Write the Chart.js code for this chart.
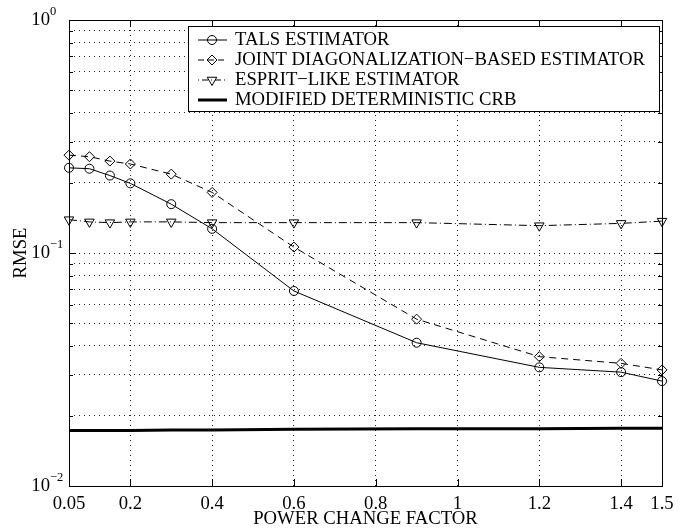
<!DOCTYPE html>
<html>
<head>
<meta charset="utf-8">
<script src="https://cdn.jsdelivr.net/npm/chart.js@4/dist/chart.umd.min.js"></script>
<style>
  html, body { margin: 0; padding: 0; background: #fff; }
</style>
</head>
<body>
<canvas id="chart" width="690" height="529"></canvas>
<script>
// power change factor (x) and RMSE per estimator
const powerFactor = [0.05, 0.1, 0.15, 0.2, 0.3, 0.4, 0.6, 0.9, 1.2, 1.4, 1.5];
const talsRmse = [0.232, 0.230, 0.215, 0.199, 0.162, 0.127, 0.0687, 0.0412, 0.0323, 0.0308, 0.0282];
const jointDiagRmse = [0.263, 0.259, 0.248, 0.241, 0.218, 0.182, 0.106, 0.052, 0.0359, 0.0336, 0.0315];
const espritRmse = [0.139, 0.136, 0.135, 0.136, 0.136, 0.135, 0.135, 0.135, 0.131, 0.134, 0.137];
const crbRmse = [0.0173, 0.0173, 0.0173, 0.0173, 0.0174, 0.0174, 0.0175, 0.0176, 0.0176, 0.0177, 0.0177];

const seriesLabels = [
    'TALS ESTIMATOR',
    'JOINT DIAGONALIZATION\u2212BASED ESTIMATOR',
    'ESPRIT\u2212LIKE ESTIMATOR',
    'MODIFIED DETERMINISTIC CRB'
];

const xTicks = [0.05, 0.2, 0.4, 0.6, 0.8, 1, 1.2, 1.4, 1.5];
const yTicks = [0.01, 0.02, 0.03, 0.04, 0.05, 0.06, 0.07, 0.08, 0.09,
                0.1, 0.2, 0.3, 0.4, 0.5, 0.6, 0.7, 0.8, 0.9, 1];
const yDecades = [0.01, 0.1, 1];
const yDecadeExp = ['\u22122', '\u22121', '0'];

const FONT = "'Liberation Serif', 'Times New Roman', serif";
const FONT_SIZE = 18.7;

function toPoints(ys) {
    return powerFactor.map((x, i) => ({x: x, y: ys[i]}));
}

// frame with inward ticks, y labels with superscript exponent
const framePlugin = {
    id: 'frame',
    afterDraw(chart) {
        const {ctx, chartArea: a, scales: {x, y}} = chart;
        ctx.save();
        ctx.strokeStyle = '#000';
        ctx.lineWidth = 1;
        ctx.setLineDash([]);
        ctx.beginPath();
        for (let v of xTicks) {
            let px = Math.round(x.getPixelForValue(v)) + 0.5;
            ctx.moveTo(px, a.bottom); ctx.lineTo(px, a.bottom - 7);
            ctx.moveTo(px, a.top); ctx.lineTo(px, a.top + 7);
        }
        for (let v of yTicks) {
            let py = Math.round(y.getPixelForValue(v)) + 0.5;
            let len = yDecades.includes(v) ? 7 : 4;
            ctx.moveTo(a.left, py); ctx.lineTo(a.left + len, py);
            ctx.moveTo(a.right, py); ctx.lineTo(a.right - len, py);
        }
        ctx.stroke();
        ctx.strokeRect(Math.round(a.left) + 0.5, Math.round(a.top) + 0.5,
            Math.round(a.right - a.left), Math.round(a.bottom - a.top));

        ctx.fillStyle = '#000';
        ctx.textBaseline = 'middle';
        yDecades.forEach((v, i) => {
            let py = y.getPixelForValue(v);
            ctx.font = FONT_SIZE + 'px ' + FONT;
            ctx.textAlign = 'right';
            ctx.fillText('10', a.left - 19, py);
            ctx.font = '12.5px ' + FONT;
            ctx.textAlign = 'left';
            ctx.fillText(yDecadeExp[i], a.left - 19, py - 8);
        });
        ctx.restore();
    }
};

const legendDash = [[], [6, 4], [1, 3, 6, 3], []];

const legendPlugin = {
    id: 'boxLegend',
    afterDraw(chart) {
        const {ctx, chartArea: a} = chart;
        const left = a.left + 119, top = a.top + 6, w = 471, h = 85;
        ctx.save();
        ctx.fillStyle = '#fff';
        ctx.fillRect(left, top, w, h);
        ctx.strokeStyle = '#000';
        ctx.lineWidth = 1;
        ctx.setLineDash([]);
        ctx.strokeRect(left + 0.5, top + 0.5, w, h);

        chart.data.datasets.forEach((ds, i) => {
            let cy = top + 14 + i * 20;
            ctx.strokeStyle = '#000';
            ctx.lineWidth = ds.borderWidth;
            ctx.setLineDash(legendDash[i]);
            ctx.beginPath();
            ctx.moveTo(left + 10, cy);
            ctx.lineTo(left + 39, cy);
            ctx.stroke();
            ctx.setLineDash([]);
            if (ds.pointRadius > 0) {
                ctx.lineWidth = 1;
                ctx.fillStyle = 'rgba(0,0,0,0)';
                Chart.helpers.drawPoint(ctx, {
                    pointStyle: ds.pointStyle,
                    rotation: ds.pointRotation || 0,
                    radius: ds.pointRadius,
                    borderWidth: 1
                }, left + 24, cy);
            }
            ctx.fillStyle = '#000';
            ctx.font = FONT_SIZE + 'px ' + FONT;
            ctx.textAlign = 'left';
            ctx.textBaseline = 'middle';
            ctx.fillText(seriesLabels[i], left + 47, cy);
        });
        ctx.restore();
    }
};

const datasets = [
    {
        label: seriesLabels[0],
        data: toPoints(talsRmse),
        borderColor: '#000',
        borderWidth: 1,
        pointStyle: 'circle',
        pointRadius: 4.5,
        pointBorderColor: '#000',
        pointBackgroundColor: 'rgba(0,0,0,0)',
        pointBorderWidth: 1
    },
    {
        label: seriesLabels[1],
        data: toPoints(jointDiagRmse),
        borderColor: '#000',
        borderWidth: 1,
        borderDash: [7, 5],
        pointStyle: 'rectRot',
        pointRadius: 5,
        pointBorderColor: '#000',
        pointBackgroundColor: 'rgba(0,0,0,0)',
        pointBorderWidth: 1
    },
    {
        label: seriesLabels[2],
        data: toPoints(espritRmse),
        borderColor: '#000',
        borderWidth: 1,
        borderDash: [8, 3, 1, 3],
        pointStyle: 'triangle',
        pointRotation: 180,
        pointRadius: 5.5,
        pointBorderColor: '#000',
        pointBackgroundColor: 'rgba(0,0,0,0)',
        pointBorderWidth: 1
    },
    {
        label: seriesLabels[3],
        data: toPoints(crbRmse),
        borderColor: '#000',
        borderWidth: 3,
        pointRadius: 0
    }
];

new Chart(document.getElementById('chart'), {
    type: 'line',
    data: {datasets: datasets},
    options: {
        responsive: false,
        animation: false,
        devicePixelRatio: 1,
        layout: {padding: {top: 20, right: 28, left: 0, bottom: 0}},
        elements: {line: {tension: 0}},
        datasets: {line: {clip: false}},
        plugins: {legend: {display: false}, tooltip: {enabled: false}},
        scales: {
            x: {
                type: 'linear',
                min: 0.05,
                max: 1.5,
                afterBuildTicks: scale => { scale.ticks = xTicks.map(v => ({value: v})); },
                afterFit: scale => { scale.height = 43; },
                ticks: {
                    autoSkip: false,
                    maxRotation: 0,
                    padding: 7,
                    color: '#000',
                    font: {family: FONT, size: FONT_SIZE},
                    callback: v => String(v)
                },
                grid: {color: '#222', lineWidth: 1, drawTicks: false},
                border: {display: false, dash: [1, 4]},
                title: {
                    display: true,
                    text: 'POWER CHANGE FACTOR',
                    color: '#000',
                    font: {family: FONT, size: FONT_SIZE},
                    padding: {top: 0, bottom: -1}
                }
            },
            y: {
                type: 'logarithmic',
                min: 0.01,
                max: 1,
                afterBuildTicks: scale => { scale.ticks = yTicks.map(v => ({value: v})); },
                afterFit: scale => { scale.width = 69; },
                ticks: {display: false},
                grid: {color: '#222', lineWidth: 1, drawTicks: false},
                border: {display: false, dash: [1, 4]},
                title: {
                    display: true,
                    text: 'RMSE',
                    color: '#000',
                    font: {family: FONT, size: FONT_SIZE},
                    padding: {top: 10, bottom: 0}
                }
            }
        }
    },
    plugins: [framePlugin, legendPlugin]
});
</script>
</body>
</html>
